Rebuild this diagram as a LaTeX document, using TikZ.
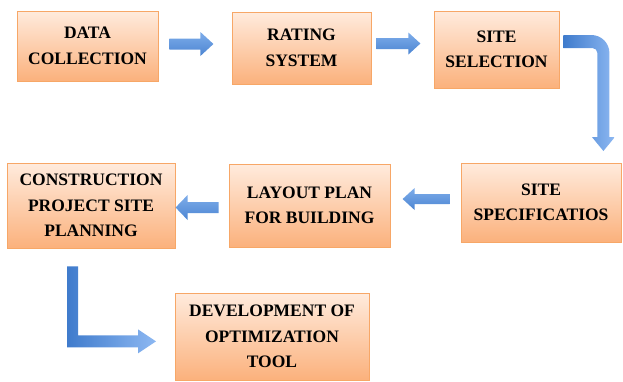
\documentclass[tikz,border=0pt]{standalone}
\usepackage{fontspec}
\setmainfont{Liberation Serif}
\usetikzlibrary{calc}
\definecolor{boxtop}{HTML}{FFEBDD}
\definecolor{boxbot}{HTML}{FBB17C}
\definecolor{boxline}{HTML}{F7A767}
\definecolor{arrlight}{HTML}{8DB8F2}
\definecolor{arrdark}{HTML}{3F7BCC}
\definecolor{arrmidtop}{HTML}{7EADEA}
\definecolor{arrmidbot}{HTML}{4C85D2}
\tikzset{
  stepbox/.style={rectangle, draw=boxline, line width=0.8pt, top color=boxtop, bottom color=boxbot,
    align=center, inner sep=0pt, font=\bfseries\fontsize{17.5}{25.5}\selectfont, text=black},
  straightshade/.style={top color=arrmidtop, bottom color=arrmidbot, draw=none},
  bentshade/.style={left color=arrdark, right color=arrlight, draw=none},
  pics/rarrow/.style n args={4}{code={
    \shade[straightshade] (0,-#2) -- ({#1-#4},-#2) -- ({#1-#4},-#3) -- (#1,0) -- ({#1-#4},#3) -- ({#1-#4},#2) -- (0,#2) -- cycle;}},
  pics/larrow/.style n args={4}{code={
    \shade[straightshade] (0,-#2) -- ({-#1+#4},-#2) -- ({-#1+#4},-#3) -- (-#1,0) -- ({-#1+#4},#3) -- ({-#1+#4},#2) -- (0,#2) -- cycle;}},
}
\begin{document}
\begin{tikzpicture}[x=1pt,y=-1pt]
\useasboundingbox (0,0) rectangle (623,381);
\node[stepbox, minimum width=141pt, minimum height=70pt] (dc) at (87.5,46) {DATA\\COLLECTION};
\node[stepbox, minimum width=139pt, minimum height=72pt] (rs) at (301.5,48) {RATING\\SYSTEM};
\node[stepbox, minimum width=125pt, minimum height=77pt] (ss) at (496.5,49.5) {SITE\\SELECTION};
\node[stepbox, minimum width=160pt, minimum height=79pt] (sp) at (541,202.5) {SITE\\SPECIFICATIOS};
\node[stepbox, minimum width=161pt, minimum height=83pt] (lp) at (309.5,205.5) {LAYOUT PLAN\\FOR BUILDING};
\node[stepbox, minimum width=168pt, minimum height=85pt] (cp) at (91,205.5) {CONSTRUCTION\\PROJECT SITE\\PLANNING};
\node[stepbox, minimum width=194pt, minimum height=87pt] (dev) at (272,336.5) {DEVELOPMENT OF\\OPTIMIZATION\\TOOL};
% straight arrows
\pic at ($(dc.east)+(11,-2)$) {rarrow={44}{5.5}{12}{13}};
\pic at ($(rs.east)+(5,-4.5)$) {rarrow={44}{5.5}{11}{12}};
\pic at ($(sp.west)+(-11,-3.5)$) {larrow={47}{5}{11}{12}};
\pic at ($(lp.west)+(-10,2)$) {larrow={43}{5.5}{12.5}{12}};
% bent arrow from site selection down to site specifications
\coordinate (b1) at ($(ss.east)+(4,-8)$);
\shade[bentshade, shift={(b1)}] (0,-6.5) -- (28,-6.5) .. controls (37.9,-6.5) and (46,1.56) .. (46,11.5)
  -- (46,95.5) -- (51.5,95.5) -- (40,109.5) -- (28.5,95.5) -- (34,95.5) -- (34,11.5)
  .. controls (34,8.74) and (31.76,6.5) .. (29,6.5) -- (0,6.5) -- cycle;
% L arrow from construction planning to development
\coordinate (b2) at ($(cp.south)+(-24,18)$);
\shade[bentshade, shift={(b2)}] (0,0) -- (11,0) -- (11,69) -- (71,69) -- (71,63) -- (89,75)
  -- (71,87) -- (71,81) -- (0,81) -- cycle;
\end{tikzpicture}
\end{document}
